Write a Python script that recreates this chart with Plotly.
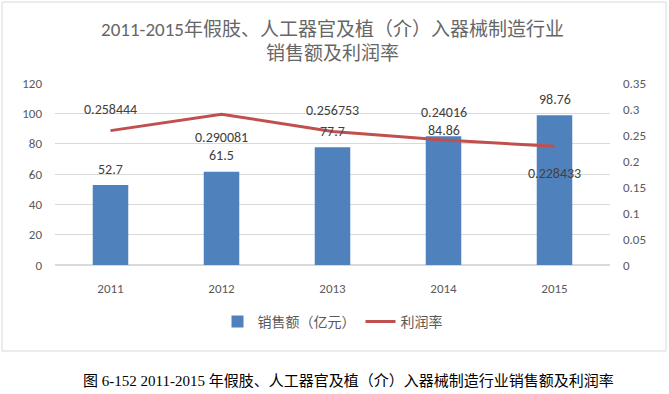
import plotly.graph_objects as go

years = ["2011", "2012", "2013", "2014", "2015"]
sales = [52.7, 61.5, 77.7, 84.86, 98.76]
profit_rate = [0.258444, 0.290081, 0.256753, 0.24016, 0.228433]
sales_labels = ["52.7", "61.5", "77.7", "84.86", "98.76"]
rate_labels = ["0.258444", "0.290081", "0.256753", "0.24016", "0.228433"]
left_ticks = [0, 20, 40, 60, 80, 100, 120]
right_ticks = [0, 0.05, 0.1, 0.15, 0.2, 0.25, 0.3, 0.35]
right_ticktext = ["0", "0.05", "0.1", "0.15", "0.2", "0.25", "0.3", "0.35"]

title_text = "2011-2015年假肢、人工器官及植（介）入器械制造行业<br>销售额及利润率"
caption_text = "图 6-152 2011-2015 年假肢、人工器官及植（介）入器械制造行业销售额及利润率"

# label offsets (pixels) — style only
sales_shift = [16, 16, 16, 6, 16]
rate_shift = [21, -23, 21, 28, -27]

W, H = 669, 394
ml, mr, mt, mb = 55, 59, 83, 129
pw = W - ml - mr
ph = H - mt - mb

def px_x(p):
    return (p - ml) / pw

def px_y(p):
    return (H - mb - p) / ph

font_cn = "Calibri, Carlito, 'Noto Sans CJK SC', sans-serif"
gray = "#595959"

fig = go.Figure()
fig.add_trace(go.Bar(
    x=years, y=sales, name="销售额（亿元）",
    marker=dict(color="#4f81bd", line=dict(width=0)),
    width=0.32, yaxis="y",
))
fig.add_trace(go.Scatter(
    x=years, y=profit_rate, name="利润率", mode="lines",
    line=dict(color="#c0504d", width=3), yaxis="y2",
))

ann = []
for i, (v, t, s) in enumerate(zip(sales, sales_labels, sales_shift)):
    ann.append(dict(x=i, y=v, xref="x", yref="y", text=t, showarrow=False,
                    yshift=s, yanchor="middle",
                    font=dict(size=14, color="#404040", family=font_cn)))
for i, (v, t, s) in enumerate(zip(profit_rate, rate_labels, rate_shift)):
    ann.append(dict(x=i, y=v, xref="x", yref="y2", text=t, showarrow=False,
                    yshift=s, yanchor="middle",
                    font=dict(size=14, color="#404040", family=font_cn)))
ann.append(dict(x=px_x(348), y=px_y(381), xref="paper", yref="paper",
                text=caption_text, showarrow=False, xanchor="center", yanchor="middle",
                font=dict(size=15, color="#000000",
                          family="'Times New Roman', 'Liberation Serif', 'Noto Sans CJK SC', serif")))

fig.update_layout(
    width=W, height=H,
    margin=dict(l=ml, r=mr, t=mt, b=mb, autoexpand=False),
    paper_bgcolor="white", plot_bgcolor="white",
    title=dict(text=title_text, x=0.5, xref="paper", xanchor="center",
               y=1 - 35.5 / H, yanchor="middle",
               font=dict(size=19, color="#666666", family=font_cn)),
    showlegend=True,
    legend=dict(orientation="h", x=0.5, xanchor="center", y=px_y(322), yanchor="middle",
                font=dict(size=14, color=gray, family=font_cn),
                traceorder="normal", itemwidth=30),
    xaxis=dict(type="category", range=[-0.5, 4.5], showgrid=False, showline=False, ticks="",
               ticklabelstandoff=14,
               tickfont=dict(size=13, color=gray, family=font_cn)),
    yaxis=dict(range=[0, 120], tickvals=left_ticks, showgrid=True, gridcolor="#d9d9d9",
               gridwidth=1, zeroline=True, zerolinecolor="#d9d9d9", showline=False,
               ticks="", ticklabelstandoff=12,
               tickfont=dict(size=13, color=gray, family=font_cn)),
    yaxis2=dict(range=[0, 0.35], tickvals=right_ticks, ticktext=right_ticktext,
                overlaying="y", side="right", showgrid=False, zeroline=False,
                showline=False, ticks="", ticklabelstandoff=12,
                tickfont=dict(size=13, color=gray, family=font_cn)),
    annotations=ann,
    shapes=[dict(type="rect", xref="paper", yref="paper",
                 x0=px_x(2), x1=px_x(666), y0=px_y(351), y1=px_y(2),
                 line=dict(color="#d9d9d9", width=1), layer="below")],
)

fig.write_html("out.html", config={"displayModeBar": False},
               post_script="document.body.style.margin='0';document.body.style.overflow='hidden';")
